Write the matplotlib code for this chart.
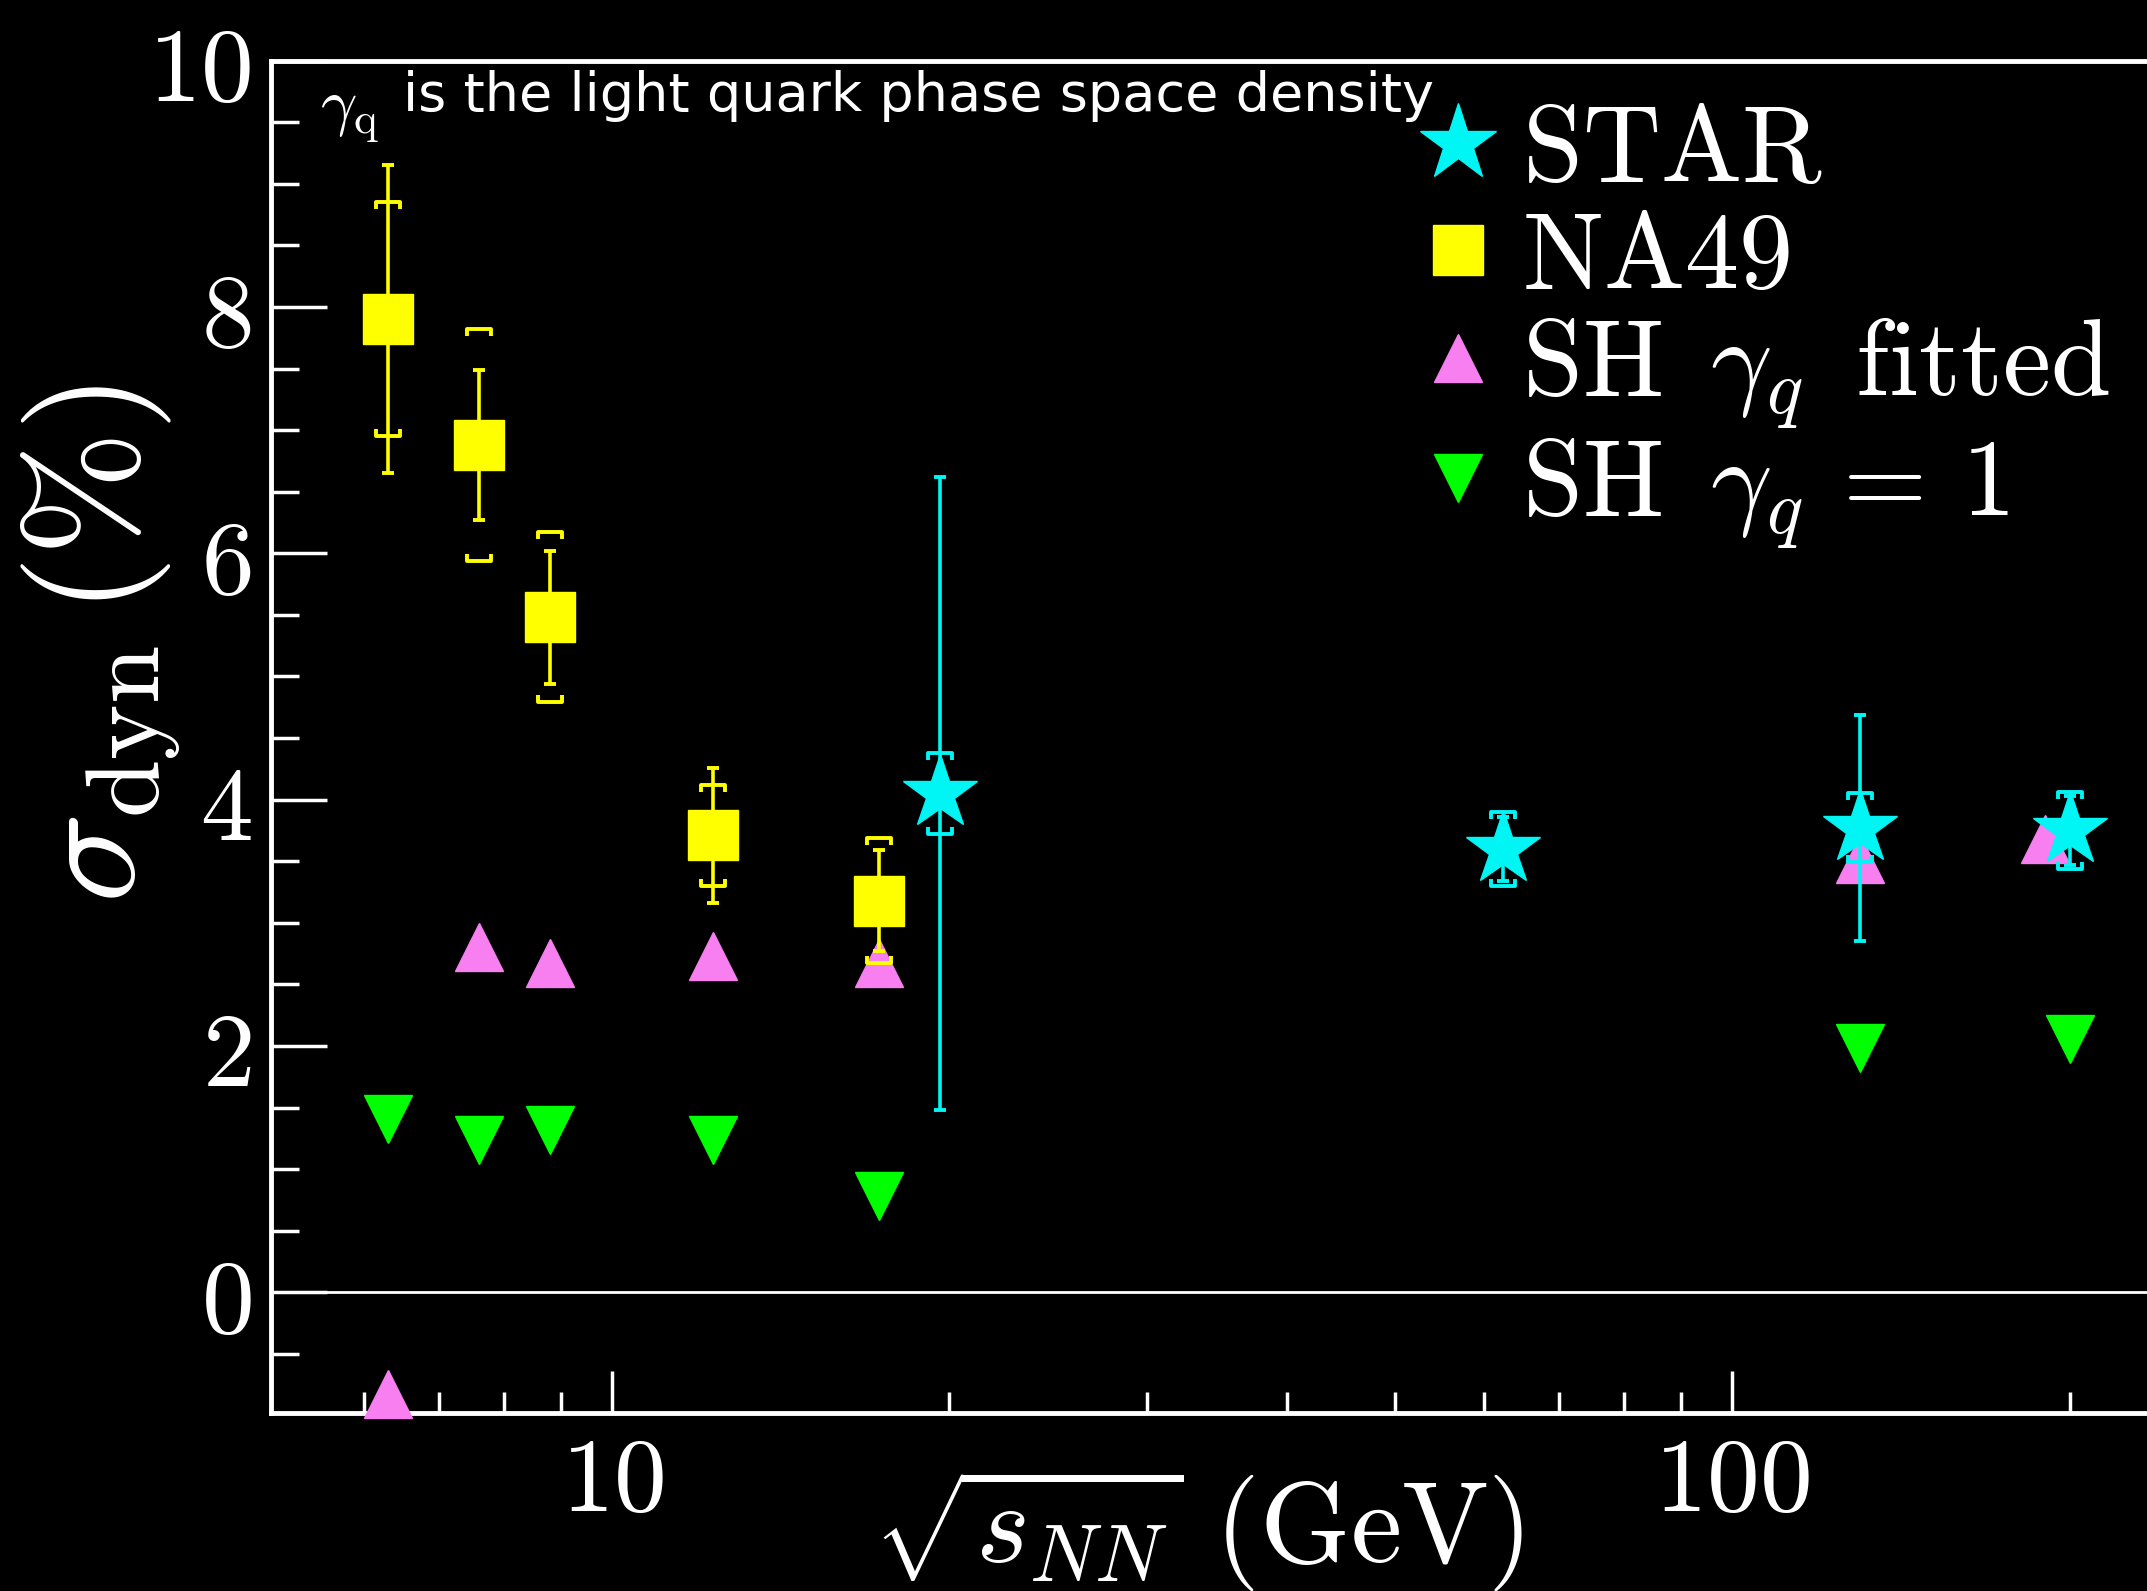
import numpy as np
import matplotlib.pyplot as plt
from matplotlib.lines import Line2D
from matplotlib.path import Path
from matplotlib.ticker import FixedLocator, NullFormatter

plt.rcParams['mathtext.fontset'] = 'cm'
plt.rcParams['font.family'] = 'serif'

# ---------------- Data ----------------
na49_x = [6.3, 7.6, 8.8, 12.3, 17.3]
na49_y = [7.90, 6.88, 5.48, 3.71, 3.18]
na49_stat = [1.25, 0.61, 0.54, 0.55, 0.41]
na49_sys = [0.95, 0.94, 0.69, 0.41, 0.51]

star_x = [19.6, 62.4, 130, 200]
star_y = [4.05, 3.60, 3.77, 3.75]
star_stat = [2.57, 0.26, 0.92, 0.28]
star_sys = [0.33, 0.30, 0.28, 0.31]

fit_x = [6.3, 7.6, 8.8, 12.3, 17.3, 130, 190]
sh_fitted = [-0.83, 2.80, 2.67, 2.73, 2.67, 3.52, 3.68]
one_x = [6.3, 7.6, 8.8, 12.3, 17.3, 130, 200]
sh_one = [1.41, 1.24, 1.32, 1.24, 0.78, 1.98, 2.06]

x_major = [10, 100]
x_minor = [6, 7, 8, 9, 20, 30, 40, 50, 60, 70, 80, 90, 200]
y_major = [0, 2, 4, 6, 8, 10]

# ---------------- Colours ----------------
c_star = '#00f5f5'
c_na49 = '#ffff00'
c_fit = '#f77ff0'
c_one = '#00ff00'

# bracket markers for the systematic errors
top_br = Path([(-1, -0.6), (-1, 0), (1, 0), (1, -0.6)],
              [Path.MOVETO, Path.LINETO, Path.LINETO, Path.LINETO])
bot_br = Path([(-1, 0.6), (-1, 0), (1, 0), (1, 0.6)],
              [Path.MOVETO, Path.LINETO, Path.LINETO, Path.LINETO])

fig = plt.figure(figsize=(21.47, 15.91), dpi=100, facecolor='black')
ax = fig.add_axes([0.1263, 0.1119, 0.879, 0.850])
ax.set_facecolor('black')
ax.set_xscale('log')
ax.set_xlim(4.96, 240)
ax.set_ylim(-0.98, 10)

ax.axhline(0, color='white', lw=2)

# SH model
ax.plot(one_x, sh_one, linestyle='none', marker='v', ms=35, color=c_one, zorder=3, clip_on=False)
ax.plot(fit_x, sh_fitted, linestyle='none', marker='^', ms=35, color=c_fit, zorder=3, clip_on=False)


def draw_points(x, y, stat, sys, color, marker, ms):
    x = np.array(x)
    y = np.array(y)
    sys = np.array(sys)
    ax.errorbar(x, y, yerr=stat, fmt='none', ecolor=color, elinewidth=2.6,
                capsize=4, capthick=2.8, zorder=4)
    ax.plot(x, y + sys, linestyle='none', marker=top_br, ms=17, mfc='none',
            mec=color, mew=2.8, zorder=4)
    ax.plot(x, y - sys, linestyle='none', marker=bot_br, ms=17, mfc='none',
            mec=color, mew=2.8, zorder=4)
    ax.plot(x, y, linestyle='none', marker=marker, ms=ms, color=color, zorder=5)


draw_points(na49_x, na49_y, na49_stat, na49_sys, c_na49, 's', 36)
draw_points(star_x, star_y, star_stat, star_sys, c_star, '*', 56)

# ---------------- Axes styling ----------------
for side in ['left', 'bottom', 'top']:
    ax.spines[side].set_color('white')
    ax.spines[side].set_linewidth(3.5)
ax.spines['right'].set_visible(False)

ax.xaxis.set_major_locator(FixedLocator(x_major))
ax.xaxis.set_minor_locator(FixedLocator(x_minor))
ax.xaxis.set_minor_formatter(NullFormatter())
ax.set_xticklabels([r'$10$', r'$100$'])
ax.set_yticks(y_major)
ax.set_yticks(np.arange(-0.5, 10, 0.5), minor=True)
ax.set_yticklabels([r'$%d$' % v for v in y_major])

ax.tick_params(axis='both', which='both', direction='in', colors='white',
               labelcolor='white', width=2.5)
ax.tick_params(axis='y', which='major', length=40, pad=14, labelsize=76)
ax.tick_params(axis='y', which='minor', length=20)
ax.tick_params(axis='x', which='major', length=30, pad=12, labelsize=76)
ax.tick_params(axis='x', which='minor', length=15)

fig.text(0.558, 0.018, r'$\sqrt{s_{NN}}\ (\mathrm{GeV})$', color='white',
         fontsize=83, ha='center', va='baseline')
fig.text(0.047, 0.595, r'$\sigma_{\mathrm{dyn}}\,(\%)$', color='white',
         fontsize=108, ha='center', va='center', rotation=90)

# annotation at the top
ax.text(0.026, 0.983, r'$\gamma_{\mathrm{q}}$', transform=ax.transAxes, color='white',
        fontsize=46, ha='left', va='top')
ax.text(0.07, 0.993, 'is the light quark phase space density', transform=ax.transAxes,
        color='white', fontsize=39, ha='left', va='top', family='DejaVu Sans')

# ---------------- Legend ----------------
handles = [
    Line2D([], [], linestyle='none', marker='*', ms=58, color=c_star),
    Line2D([], [], linestyle='none', marker='s', ms=36, color=c_na49),
    Line2D([], [], linestyle='none', marker='^', ms=35, color=c_fit),
    Line2D([], [], linestyle='none', marker='v', ms=35, color=c_one),
]
labels = [r'$\mathrm{STAR}$', r'$\mathrm{NA49}$',
          r'$\mathrm{SH}\ \,\gamma_q\ \,\mathrm{fitted}$',
          r'$\mathrm{SH}\ \,\gamma_q\,=\,1$']
leg = fig.legend(handles, labels, loc='upper left', bbox_to_anchor=(0.640, 0.972),
                 frameon=False, fontsize=78, labelcolor='white', handlelength=0.55,
                 handletextpad=0.32, labelspacing=0.02, borderpad=0)

fig.savefig('out.png', dpi=100, facecolor='black')
